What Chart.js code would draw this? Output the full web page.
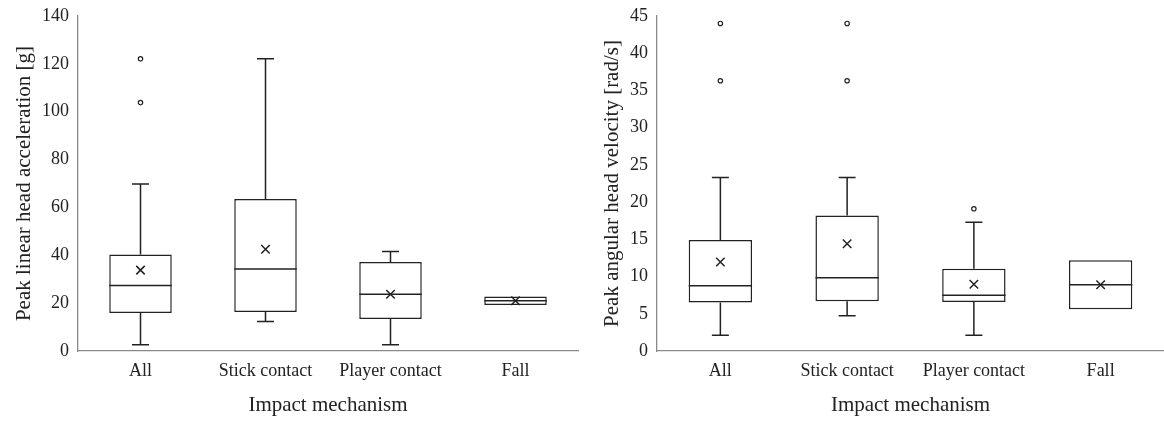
<!DOCTYPE html>
<html>
<head>
<meta charset="utf-8">
<script src="https://cdn.jsdelivr.net/npm/chart.js@4"></script>
<style>
  body { margin: 0; background: #fff; }
  .wrap { position: absolute; top: 0; width: 582px; height: 422px; }
</style>
</head>
<body>
<div class="wrap" style="left:0"><canvas id="linChart" width="582" height="422"></canvas></div>
<div class="wrap" style="left:582px"><canvas id="angChart" width="582" height="422"></canvas></div>
<script>
const categories = ['All', 'Stick contact', 'Player contact', 'Fall'];

// peak linear head acceleration [g]
const linMin  = [2.6, 12.3, 2.6, 19.2];
const linQ1   = [15.9, 16.3, 13.4, 19.2];
const linMed  = [27.4, 34.3, 23.7, 21.0];
const linQ3   = [40.3, 63.5, 37.2, 22.8];
const linMax  = [69.8, 122.1, 41.6, 22.8];
const linMean = [33.8, 42.5, 23.7, 21.0];
const linOut  = [[122.1, 103.8], [], [], []];
const linTicks = { max: 140, step: 20 };

// peak angular head velocity [rad/s]
const angMin  = [2.1, 4.75, 2.1, 5.6];
const angQ1   = [6.5, 6.67, 6.58, 5.6];
const angMed  = [8.78, 9.85, 7.48, 8.91];
const angQ3   = [14.9, 18.2, 11.06, 12.18];
const angMax  = [23.3, 23.3, 17.3, 12.18];
const angMean = [11.96, 14.4, 8.96, 8.91];
const angOut  = [[44.0, 36.3], [44.0, 36.3], [19.1], []];
const angTicks = { max: 45, step: 5 };

const ink = '#222';
const axisGray = '#8a8a8a';
const serif = "'Liberation Serif', 'DejaVu Serif', serif";

// whiskers + median, drawn right after the box bars
function boxPlugin(s) {
  return {
    id: 'boxExtras',
    afterDatasetDraw(chart, args) {
      if (args.meta.type !== 'bar') return;
      const ctx = chart.ctx, x = chart.scales.x, y = chart.scales.y;
      ctx.save();
      ctx.strokeStyle = ink;
      ctx.lineWidth = 1.5;
      categories.forEach((c, i) => {
        const cx = x.getPixelForValue(i);
        const half = args.meta.data[i].width / 2;
        const cap = 8.5;
        ctx.beginPath();
        // median
        ctx.moveTo(cx - half, y.getPixelForValue(s.med[i]));
        ctx.lineTo(cx + half, y.getPixelForValue(s.med[i]));
        if (s.max[i] > s.q3[i]) {
          ctx.moveTo(cx, y.getPixelForValue(s.q3[i]));
          ctx.lineTo(cx, y.getPixelForValue(s.max[i]));
          ctx.moveTo(cx - cap, y.getPixelForValue(s.max[i]));
          ctx.lineTo(cx + cap, y.getPixelForValue(s.max[i]));
        }
        if (s.min[i] < s.q1[i]) {
          ctx.moveTo(cx, y.getPixelForValue(s.q1[i]));
          ctx.lineTo(cx, y.getPixelForValue(s.min[i]));
          ctx.moveTo(cx - cap, y.getPixelForValue(s.min[i]));
          ctx.lineTo(cx + cap, y.getPixelForValue(s.min[i]));
        }
        ctx.stroke();
      });
      ctx.restore();
    }
  };
}

function makeBoxChart(id, s, yTitle, ticks, yWidth, rightPad, titlePad) {
  const outPts = [];
  s.out.forEach((list, i) => list.forEach(v => outPts.push({ x: categories[i], y: v })));
  return new Chart(document.getElementById(id), {
    type: 'bar',
    data: {
      labels: categories,
      datasets: [
        {
          type: 'line', showLine: false,
          data: categories.map((c, i) => ({ x: c, y: s.mean[i] })),
          pointStyle: 'crossRot', pointRadius: 6, pointBorderWidth: 1.5,
          pointBorderColor: ink, pointBackgroundColor: ink
        },
        {
          type: 'line', showLine: false,
          data: outPts,
          pointStyle: 'circle', pointRadius: 2.2, pointBorderWidth: 1.2,
          pointBorderColor: ink, pointBackgroundColor: '#fff'
        },
        {
          data: categories.map((c, i) => [s.q1[i], s.q3[i]]),
          backgroundColor: '#fff', borderColor: ink, borderWidth: 1.5,
          borderSkipped: false, categoryPercentage: 1, barPercentage: 0.5
        }
      ]
    },
    options: {
      responsive: false,
      animation: false,
      devicePixelRatio: 1,
      layout: { autoPadding: false, padding: { left: 0, right: rightPad, top: 16, bottom: 0 } },
      plugins: { legend: { display: false }, tooltip: { enabled: false } },
      scales: {
        x: {
          grid: { display: false, drawTicks: false },
          border: { display: true, color: axisGray, width: 1.3 },
          ticks: { color: ink, padding: 9, font: { family: serif, size: 18 } },
          title: { display: true, text: 'Impact mechanism', color: ink, padding: { top: 4 },
                   font: { family: serif, size: 21 } },
          afterFit: sc => { sc.height = 71; sc.paddingLeft = 0; sc.paddingRight = 0; }
        },
        y: {
          min: 0, max: ticks.max,
          grid: { display: false, drawTicks: false },
          border: { display: true, color: axisGray, width: 1.3 },
          ticks: { stepSize: ticks.step, color: ink, padding: 9, font: { family: serif, size: 18 } },
          title: { display: true, text: yTitle, color: ink, padding: { top: titlePad, bottom: 0 },
                   font: { family: serif, size: 21 } },
          afterFit: sc => { sc.width = yWidth; sc.paddingTop = 0; sc.paddingBottom = 0; }
        }
      }
    },
    plugins: [boxPlugin(s)]
  });
}

makeBoxChart('linChart',
  { min: linMin, q1: linQ1, med: linMed, q3: linQ3, max: linMax, mean: linMean, out: linOut },
  'Peak linear head acceleration [g]', linTicks, 78, 4, 12);
makeBoxChart('angChart',
  { min: angMin, q1: angQ1, med: angMed, q3: angQ3, max: angMax, mean: angMean, out: angOut },
  'Peak angular head velocity [rad/s]', angTicks, 75, 0, 18);
</script>
</body>
</html>
